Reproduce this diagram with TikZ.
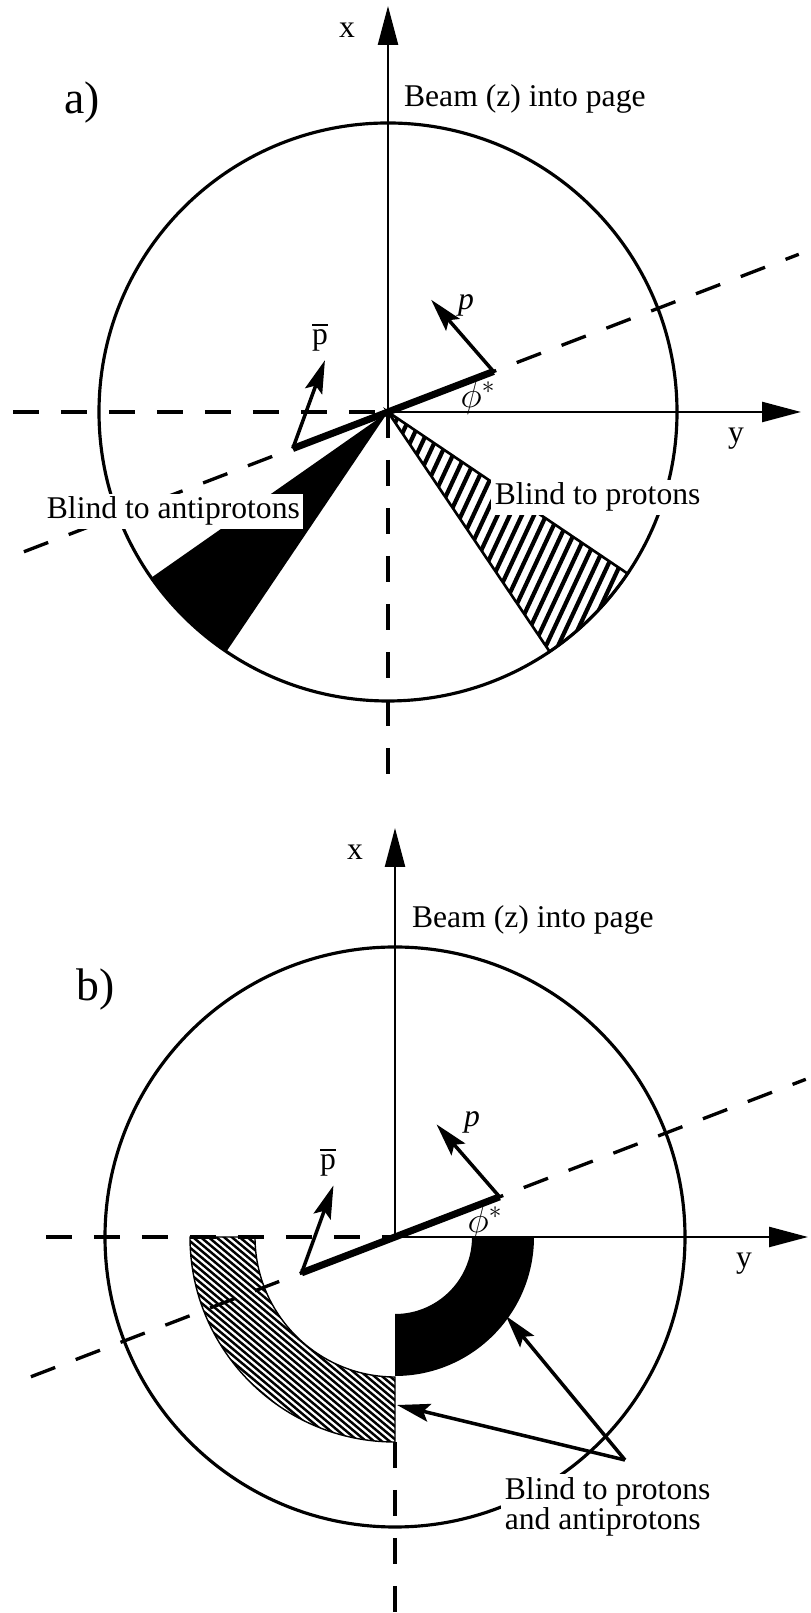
\documentclass[tikz,border=0pt]{standalone}
\usepackage{fontspec}
\setmainfont{Liberation Serif}
\usepackage{amsmath}
\usetikzlibrary{arrows.meta}

\begin{document}
\begin{tikzpicture}[
    x=0.02cm, y=0.02cm,
    lbl/.style={font=\fontsize{18}{17}\selectfont, inner sep=1pt},
    tag/.style={font=\fontsize{26}{28}\selectfont, inner sep=0pt},
    angle lbl/.style={font=\fontsize{22}{24}\selectfont, inner sep=0pt},
    blind/.style={lbl, fill=white, inner sep=2pt},
    ring/.style={line width=1.8pt},
    axis/.style={line width=1.4pt, -{Triangle[length=0.78cm, width=0.4cm]}},
    guide/.style={line width=1.9pt, dash pattern=on 0.52cm off 0.44cm},
    plane/.style={line width=4pt},
    arrow/.style={line width=2pt, -{Stealth[length=0.66cm, width=0.36cm, inset=0.12cm]}},
    widehatch/.style={line width=2.4pt},
    finehatch/.style={line width=1.4pt}
]
\useasboundingbox (0,0) rectangle (811,1613);

% a)
\begin{scope}[shift={(388,1201)}]
\coordinate (oa) at (0,0);
\draw[ring] (oa) circle[radius=289];
\fill (oa) -- (215:289) arc[start angle=215, end angle=236, radius=289] -- cycle;
\begin{scope}
\clip (oa) -- (-56:289) arc[start angle=-56, end angle=-34, radius=289] -- cycle;
\foreach \s in {0,11,...,330}
  \draw[widehatch, shift={(-25:\s)}] (245:340) -- (65:340);
\end{scope}
\draw[line width=1.5pt] (oa) -- (-56:289) arc[start angle=-56, end angle=-34, radius=289] -- cycle;

\draw[guide] (-375,0) -- (oa);
\draw[guide] (oa) -- (0,-373);
\draw[guide] (201:390) -- (21:440);
\draw[axis] (oa) -- (0,406);
\draw[axis] (oa) -- (413,0);

\draw[plane] (201:102) coordinate (pbara) -- (21:113) coordinate (pa);
\draw[arrow] (pa) -- ++(131:95) coordinate (pa-tip);
\draw[arrow] (pbara) -- ++(70:94) coordinate (pbara-tip);

\node[lbl] (xa) at (-41,382) {x};
\node[lbl] (ya) at (348,-27) {y};
\node[lbl, anchor=base west] (beama) at (14,305) {Beam (z) into page};
\node[tag] (taga) at (-306,309) {a)};
\node[lbl] (pa-lbl) at (78,107) {\textit{p}};
\node[lbl] (pbara-lbl) at (-68,75) {$\overline{\mathrm{p}}$};
\node[angle lbl] (phia) at (90,14) {$\phi^{*}$};
\node[blind, anchor=base west] (blindpbar) at (-345,-107) {Blind to antiprotons};
\node[blind, anchor=base west] (blindp) at (103,-93) {Blind to protons};
\end{scope}

% b)
\begin{scope}[shift={(395,376)}]
\coordinate (ob) at (0,0);
\draw[ring] (ob) circle[radius=290];
\fill (0,-77) -- (0,-139) arc[start angle=270, end angle=360, radius=139] -- (77,0) arc[start angle=0, end angle=-90, radius=77] -- cycle;
\begin{scope}
\clip (-140,0) -- (-205,0) arc[start angle=180, end angle=270, radius=205] -- (0,-140) arc[start angle=270, end angle=180, radius=140] -- cycle;
\foreach \s in {-300,-295,...,0}
  \draw[finehatch, shift={(50:\s)}] (-40:320) -- (140:320);
\end{scope}
\draw[line width=0.8pt] (-140,0) -- (-205,0) arc[start angle=180, end angle=270, radius=205] -- (0,-140) arc[start angle=270, end angle=180, radius=140] -- cycle;

\draw[guide] (-349,0) -- (ob);
\draw[guide] (0,-205) -- (0,-376);
\draw[guide] (201:390) -- (21:440);
\draw[axis] (ob) -- (0,409);
\draw[axis] (ob) -- (413,0);

\draw[plane] (201:100) coordinate (pbarb) -- (21:112) coordinate (pb);
\draw[arrow] (pb) -- ++(131:96) coordinate (pb-tip);
\draw[arrow] (pbarb) -- ++(70:93) coordinate (pbarb-tip);

\node[lbl] (xb) at (-40,385) {x};
\node[lbl] (yb) at (349,-27) {y};
\node[lbl, anchor=base west] (beamb) at (15,309) {Beam (z) into page};
\node[tag] (tagb) at (-299,247) {b)};
\node[lbl] (pb-lbl) at (77,115) {\textit{p}};
\node[lbl] (pbarb-lbl) at (-67,75) {$\overline{\mathrm{p}}$};
\node[angle lbl] (phib) at (90,14) {$\phi^{*}$};

\node[blind, anchor=north west, align=left] (blindboth) at (106,-237) {Blind to protons\\and antiprotons};
\coordinate (fork) at (230,-223);
\coordinate (ringtip) at (111,-79);
\coordinate (bandtip) at (2,-168);
\draw[arrow] (fork) -- (ringtip);
\draw[arrow] (fork) -- (bandtip);
\end{scope}
\end{tikzpicture}
\end{document}
